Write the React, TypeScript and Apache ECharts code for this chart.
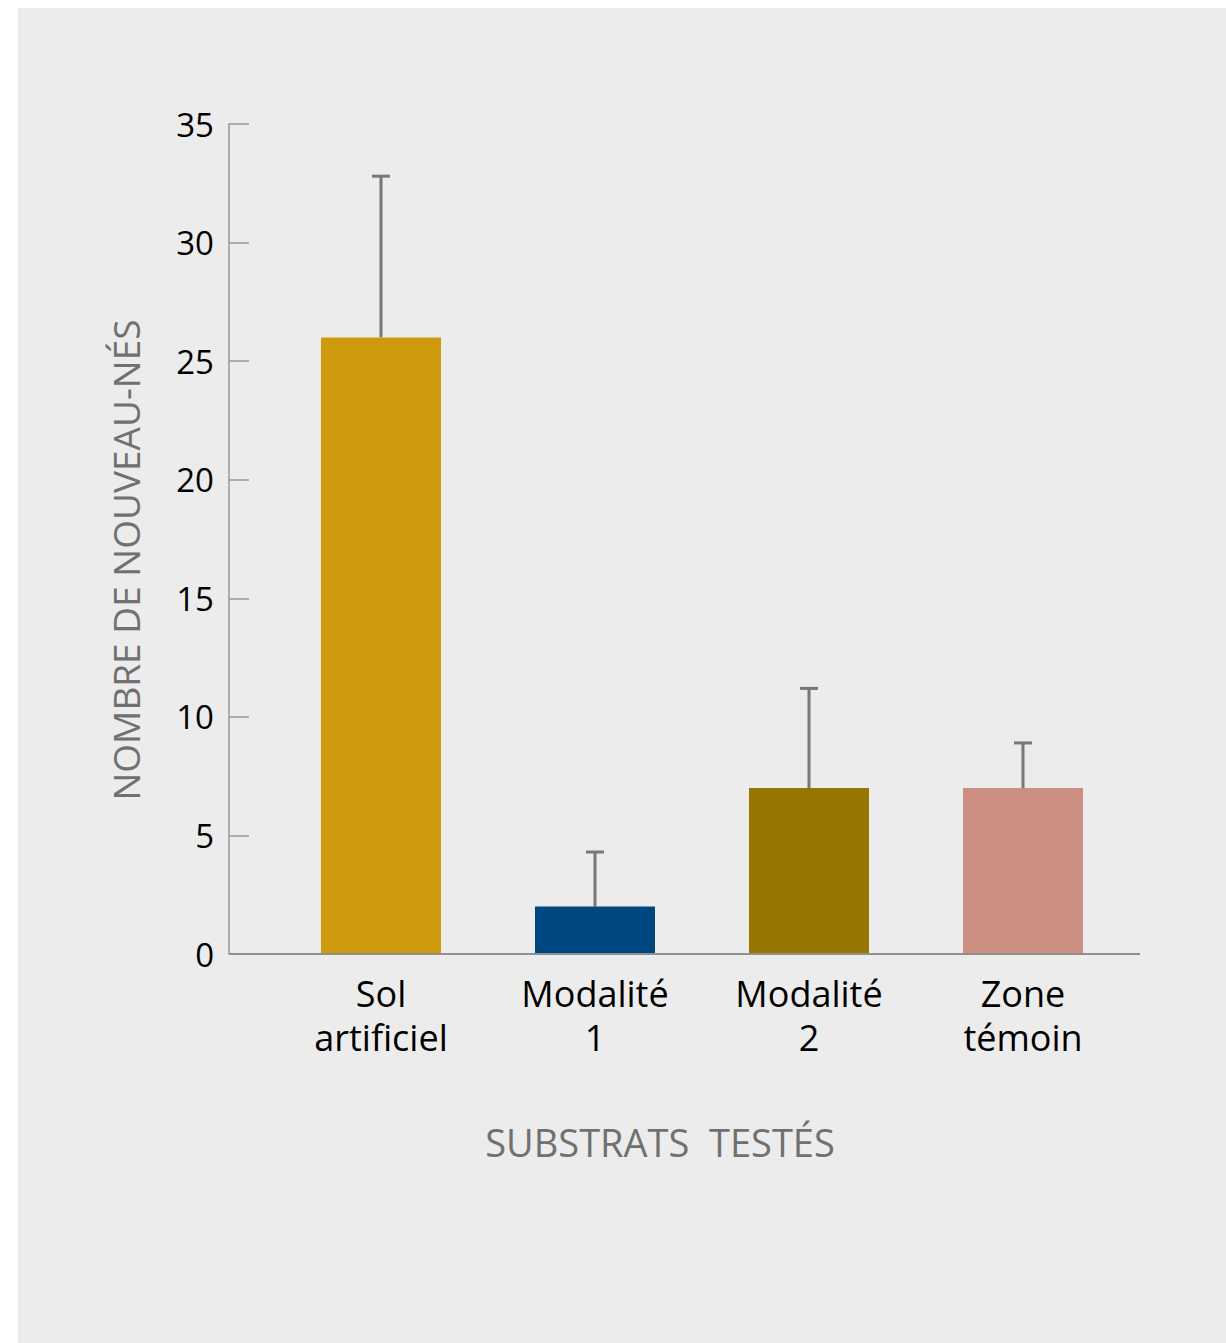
import React, { useEffect, useRef } from "react";
import * as echarts from "echarts";

const categories = ["Sol\nartificiel", "Modalité\n1", "Modalité\n2", "Zone\ntémoin"];
const means = [26, 2, 7, 7];
const upperErrors = [32.8, 4.3, 11.2, 8.9];
const barColors = ["#CF990E", "#01477F", "#947600", "#CC8E80"];
const yTicks = { min: 0, max: 35, interval: 5 };
const yName = "NOMBRE DE NOUVEAU-NÉS";
const xName = "SUBSTRATS  TESTÉS";

const FONT = "'Open Sans', 'Noto Sans', sans-serif";

export default function App() {
  const ref = useRef<HTMLDivElement>(null);
  useEffect(() => {
    if (!ref.current) return;
    const chart = echarts.init(ref.current, undefined, { renderer: "svg" });
    const errData = means.map((m, i) => [i, m, upperErrors[i]]);
    chart.setOption({
      animation: false,
      backgroundColor: "#ececec",
      grid: { left: 256, right: 96, top: 116, bottom: 389, containLabel: false },
      xAxis: {
        type: "category",
        data: categories,
        axisLine: { show: false },
        axisTick: { show: false },
        axisLabel: {
          color: "#000",
          fontFamily: FONT,
          fontSize: 36,
          lineHeight: 44,
          margin: 17,
          interval: 0,
        },
      },
      yAxis: {
        type: "value",
        min: yTicks.min,
        max: yTicks.max,
        interval: yTicks.interval,
        offset: 45,
        splitLine: { show: false },
        axisLine: { show: true, lineStyle: { color: "#999", width: 1.5 } },
        axisTick: { show: true, inside: true, length: 20, lineStyle: { color: "#999", width: 1.5 } },
        axisLabel: { color: "#000", fontFamily: FONT, fontSize: 33, margin: 15 },
      },
      graphic: [
        {
          type: "line",
          shape: { x1: 211, y1: 946, x2: 1122, y2: 946 },
          style: { stroke: "#8f8f8f", lineWidth: 2 },
          z: 10,
        },
        {
          type: "text",
          x: 642,
          y: 1134,
          style: {
            text: xName,
            fill: "#707070",
            font: `38px ${FONT}`,
            align: "center",
            verticalAlign: "middle",
          },
        },
        {
          type: "text",
          x: 107,
          y: 552,
          rotation: Math.PI / 2,
          style: {
            text: yName,
            fill: "#707070",
            font: `37px ${FONT}`,
            align: "center",
            verticalAlign: "middle",
          },
        },
      ],
      series: [
        {
          type: "custom",
          z: 1,
          data: errData,
          renderItem: (params: any, api: any) => {
            const base = api.coord([api.value(0), api.value(1)]);
            const top = api.coord([api.value(0), api.value(2)]);
            return {
              type: "group",
              children: [
                {
                  type: "line",
                  shape: { x1: base[0], y1: base[1], x2: top[0], y2: top[1] },
                  style: { stroke: "#777", lineWidth: 3 },
                },
                {
                  type: "line",
                  shape: { x1: top[0] - 9, y1: top[1], x2: top[0] + 9, y2: top[1] },
                  style: { stroke: "#777", lineWidth: 3 },
                },
              ],
            };
          },
        },
        {
          type: "bar",
          z: 2,
          barWidth: 120,
          data: means.map((v, i) => ({ value: v, itemStyle: { color: barColors[i] } })),
        },
      ],
    });
    return () => chart.dispose();
  }, []);
  return (
    <div
      ref={ref}
      style={{ position: "absolute", left: 18, top: 8, width: 1208, height: 1335 }}
    />
  );
}
